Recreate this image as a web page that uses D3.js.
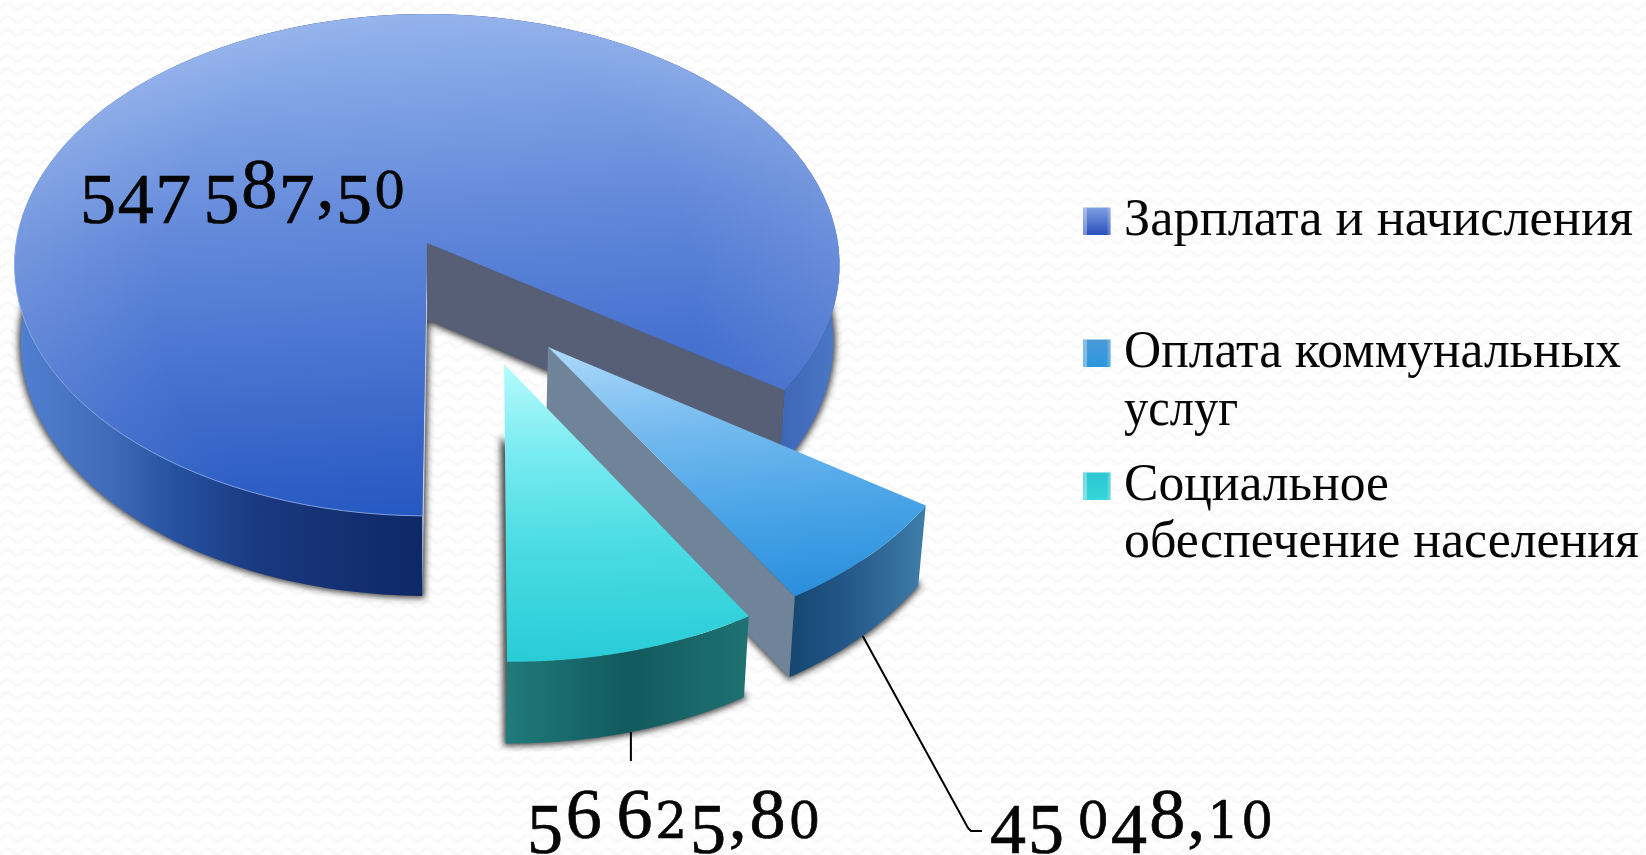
<!DOCTYPE html>
<html><head><meta charset="utf-8">
<script src="https://cdn.jsdelivr.net/npm/d3@7/dist/d3.min.js"></script>
<style>
html,body{margin:0;padding:0;background:#fff;overflow:hidden}
svg{display:block}
text{font-family:"Liberation Serif",serif;fill:#060606;white-space:pre}
</style></head><body>
<svg id="chart" width="1646" height="855"></svg>
<script>
// ---- data
const categories = ["Зарплата и начисления", "Оплата коммунальных услуг", "Социальное обеспечение населения"];
const values = [547587.50, 45048.10, 56625.80];
const valueLabels = ["547 587,50", "45 048,10", "56 625,80"];
const legendLines = [["Зарплата и начисления"], ["Оплата коммунальных", "услуг"], ["Социальное", "обеспечение населения"]];

// ---- layout & style, separate from the data
const W = 1646, H = 855;
const CX = 427, CY = 243, RX = 411, RY = 249, PERSP = 0.0876, DEPTH = 77;
const LOW_X = 0.985, LOW_Y = 1.011;
const explodeU = [0, 0.284, 0.18], explodeV = [0, 0.403, 0.466];
const legendMarkerX = 1083, legendMarkerSize = 27.5, legendTextX = 1124;
const legendBaselines = [[235], [367, 425], [500, 557]];
const legendWidths = [[509], [497, 114], [265, 515]];
const labelX = [80, 990, 527], labelBase = [208, 838, 838], labelWidth = [327, 285, 296];
const topStops = [
  [[0, "#94b3ec"], [0.2, "#7b9ee3"], [0.4, "#6389da"], [0.6, "#4f79d3"], [0.8, "#3b68ca"], [1, "#2558c2"]],
  [[0, "#aedafa"], [0.35, "#74baef"], [0.7, "#48a3e6"], [1, "#2a8fdd"]],
  [[0, "#b6fbfd"], [0.3, "#78ebf0"], [0.6, "#4cdce3"], [1, "#27ccd7"]]
];
const sideStops = [
  [[0, "#5281d2"], [0.12, "#3f6ab7"], [0.2, "#25509f"], [0.3, "#19387e"], [0.5, "#0e2866"], [0.85, "#2d52a0"], [1, "#4c78c8"]],
  [[0, "#154771"], [0.45, "#25598a"], [1, "#3f7da9"]],
  [[0, "#217a7b"], [0.5, "#115a5e"], [1, "#1f7172"]]
];
const legendColors = [["#7f9fe2", "#2a50bd"], ["#4a9ad6", "#2c97de"], ["#2cc5d0", "#36d6dc"]];

const svg = d3.select("#chart");
const defs = svg.append("defs");

// background weave
const pat = defs.append("pattern").attr("id", "bg").attr("width", 20).attr("height", 13).attr("patternUnits", "userSpaceOnUse");
pat.append("path").attr("d", "M0,9 L5,4 L10,4 L15,9 L20,9").attr("fill", "none").attr("stroke", "#f8f8f8").attr("stroke-width", 3);
svg.append("rect").attr("width", W).attr("height", H).attr("fill", "url(#bg)");

defs.append("filter").attr("id", "soft").attr("x", "-10%").attr("y", "-10%").attr("width", "120%").attr("height", "120%")
  .append("feGaussianBlur").attr("stdDeviation", 3.2);

// perspective: ground coordinates -> page through D3 scales
const xTop = d3.scaleLinear().domain([-1, 1]).range([CX - RX, CX + RX]);
const yTop = d3.scaleLinear().domain([-1, 1]).range([CY - RY, CY + RY]);
const xLow = d3.scaleLinear().domain([-1, 1]).range([CX - RX * LOW_X, CX + RX * LOW_X]);
const yLow = d3.scaleLinear().domain([-1, 1]).range([CY + DEPTH - RY * LOW_Y, CY + DEPTH + RY * LOW_Y]);
const proj = (i, a, r, low) => {
  const U = explodeU[i] + r * Math.sin(a), V = explodeV[i] - r * Math.cos(a), w = 1 - PERSP * V;
  return low ? [xLow(U / w), yLow(V / w)] : [xTop(U / w), yTop(V / w)];
};
const start = 180.6 * Math.PI / 180;
const arcs = d3.pie().sort(null).startAngle(start).endAngle(start + 2 * Math.PI)(values);
const angles = d => d3.range(0, 121).map(k => d.startAngle + (d.endAngle - d.startAngle) * k / 120);
const line = d3.line();

function gradient(id, stops, x1, y1, x2, y2) {
  const g = defs.append("linearGradient").attr("id", id).attr("gradientUnits", "userSpaceOnUse")
    .attr("x1", x1).attr("y1", y1).attr("x2", x2).attr("y2", y2);
  stops.forEach(s => g.append("stop").attr("offset", s[0]).attr("stop-color", s[1]));
}
gradient("top0", topStops[0], 400, 14, 440, 516);
gradient("top1", topStops[1], 548, 347, 577, 619);
gradient("top2", topStops[2], 504, 364, 510, 665);
gradient("side0", sideStops[0], 14, 0, 838, 0);
gradient("side1", sideStops[1], 791, 0, 925, 0);
gradient("side2", sideStops[2], 507, 0, 746, 0);
const rg = defs.append("radialGradient").attr("id", "edgeGlow").attr("gradientUnits", "userSpaceOnUse")
  .attr("cx", CX).attr("cy", 300).attr("r", 430);
rg.append("stop").attr("offset", 0.62).attr("stop-color", "#fff").attr("stop-opacity", 0);
rg.append("stop").attr("offset", 1).attr("stop-color", "#fff").attr("stop-opacity", 0.13);

const sector = (i, d, low) => line([proj(i, 0, 0, low), ...angles(d).map(a => proj(i, a, 1, low))]) + "Z";
const outerWall = (i, d) => line([...angles(d).map(a => proj(i, a, 1, false)), ...angles(d).reverse().map(a => proj(i, a, 1, true))]) + "Z";
const cutWall = (i, a) => line([proj(i, 0, 0, false), proj(i, a, 1, false), proj(i, a, 1, true), proj(i, 0, 0, true)]) + "Z";

// shadows beneath everything
const shadows = svg.append("g").attr("filter", "url(#soft)");
arcs.forEach((d, i) => shadows.append("path").attr("d", sector(i, d, true))
  .attr("fill", "#2b2b2b").attr("stroke", "#2b2b2b").attr("stroke-width", 5).attr("stroke-opacity", 0.75).attr("fill-opacity", 0.85));

// bodies
arcs.forEach((d, i) => {
  const g = svg.append("g").attr("class", "slice");
  g.append("path").attr("d", outerWall(i, d)).attr("fill", `url(#side${i})`);
  if (i === 0) {
    g.append("path").attr("d", cutWall(i, d.endAngle)).attr("fill", "#575f77");
    g.append("path").attr("d", cutWall(i, d.startAngle)).attr("fill", "#bccbee");
  }
  if (i === 1) g.append("path").attr("d", cutWall(i, d.endAngle)).attr("fill", "#6f8399");
  g.append("path").attr("d", sector(i, d, false)).attr("fill", `url(#top${i})`);
  if (i === 0) {
    g.append("path").attr("d", sector(i, d, false)).attr("fill", "url(#edgeGlow)");
    // light rim only on the left-front arc of the big slice
    const rim = angles(d).filter(a => a < d.startAngle + 1.65);
    g.append("path").attr("d", line(rim.map(a => proj(i, a, 1, false)))).attr("fill", "none")
      .attr("stroke", "#93b4f0").attr("stroke-width", 1).attr("stroke-opacity", 0.8);
  }
});

// leader lines start at the mid-angle of each detached slice
const mid = d => (d.startAngle + d.endAngle) / 2;
const leaderBlue = proj(1, mid(arcs[1]), 1, true);
const leaderTeal = proj(2, mid(arcs[2]), 1, true);
svg.append("path").attr("d", line([leaderBlue, [968, 828], [971, 831], [982, 831]]))
  .attr("fill", "none").attr("stroke", "#000").attr("stroke-width", 2);
svg.append("path").attr("d", line([leaderTeal, [leaderTeal[0], 761]]))
  .attr("fill", "none").attr("stroke", "#000").attr("stroke-width", 2);

// value labels with old-style figures
const drop = "34579", small = "012";
valueLabels.forEach((s, i) => {
  const t = svg.append("text").attr("x", labelX[i]).attr("y", labelBase[i])
    .style("stroke", "#060606").style("stroke-width", "0.7px");
  let cur = 0;
  Array.from(s).forEach(c => {
    let size = 72, shift = 0, fam = "Liberation Serif";
    if (small.includes(c)) { size = 50; fam = "DejaVu Serif"; }
    else if (drop.includes(c)) shift = 15;
    else if (c === " ") size = 36;
    t.append("tspan").attr("dy", shift - cur).style("font-size", size + "px").style("font-family", `"${fam}",serif`).text(c);
    cur = shift;
  });
  const n = s.length, len = t.node().getComputedTextLength();
  t.style("letter-spacing", ((labelWidth[i] - len) / n) + "px");
});

// legend
categories.forEach((c, i) => {
  const g = svg.append("g").attr("class", "legend-item");
  const id = "lg" + i, y = legendBaselines[i][0] - legendMarkerSize;
  const lg = defs.append("linearGradient").attr("id", id).attr("x1", 0).attr("y1", 0).attr("x2", 0).attr("y2", 1);
  lg.append("stop").attr("offset", 0).attr("stop-color", legendColors[i][0]);
  lg.append("stop").attr("offset", 1).attr("stop-color", legendColors[i][1]);
  g.append("rect").attr("x", legendMarkerX).attr("y", y).attr("width", legendMarkerSize).attr("height", legendMarkerSize).attr("fill", `url(#${id})`);
  g.append("rect").attr("x", legendMarkerX).attr("y", y).attr("width", 4).attr("height", legendMarkerSize).attr("fill", "#fff").attr("opacity", 0.35);
  g.append("rect").attr("x", legendMarkerX + legendMarkerSize - 3).attr("y", y).attr("width", 3).attr("height", legendMarkerSize).attr("fill", "#fff").attr("opacity", 0.2);
  legendLines[i].forEach((ln, k) => g.append("text").attr("x", legendTextX).attr("y", legendBaselines[i][k])
    .attr("textLength", legendWidths[i][k]).attr("lengthAdjust", "spacingAndGlyphs")
    .style("font-size", "52px").text(ln));
});
</script></body></html>
